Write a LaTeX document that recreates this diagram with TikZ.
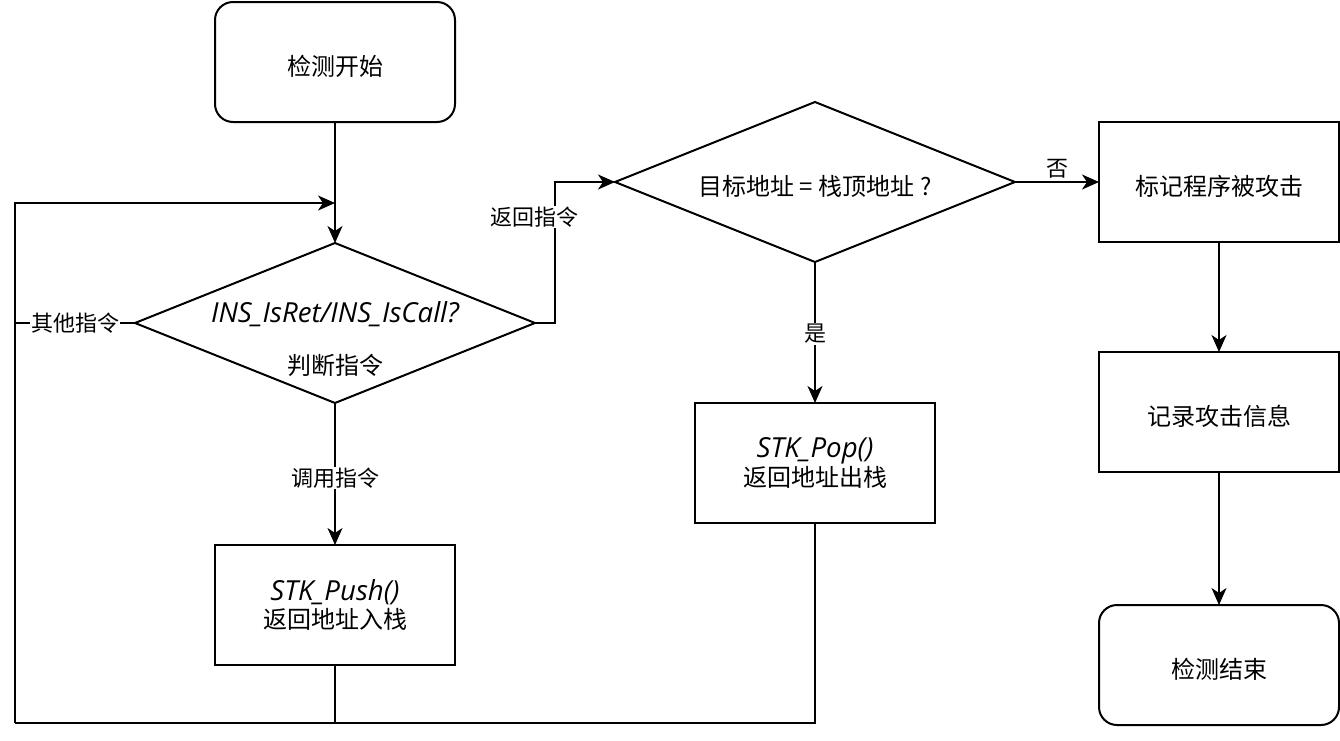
\documentclass[tikz,border=0pt]{standalone}
\usepackage{fontspec}
\setmainfont{Noto Sans CJK SC}
\newfontfamily\latinfont{Open Sans}[Scale=1.15]
\usetikzlibrary{positioning,shapes.geometric,arrows.meta}
\newcommand{\funcname}[1]{{\latinfont\itshape #1}}

\begin{document}
\begin{tikzpicture}[x=1pt,y=-1pt,
	process/.style={draw,line width=2pt,outer sep=0pt,inner sep=0pt,minimum width=240pt,minimum height=120pt,align=center,font=\fontsize{24pt}{28.8pt}\selectfont},
	oneline/.style={text height=28pt,text depth=2pt},
	terminal/.style={process,oneline,rounded corners=18pt},
	decision/.style={draw,diamond,aspect=2.5,line width=2pt,outer sep=0pt,inner sep=0pt,minimum width=400pt,minimum height=160pt,font=\fontsize{24pt}{28.8pt}\selectfont},
	flow/.style={line width=2pt,-{Stealth[length=17pt,width=15pt,inset=5pt]}},
	link/.style={line width=2pt},
	edgelabel/.style={fill=white,inner sep=1pt,font=\fontsize{22pt}{26.4pt}\selectfont}]
			\useasboundingbox (0,0) rectangle (1340,740);

			\node[terminal]										(start)		at (335,62)	{检测开始};
			\node[decision,below=121pt of start]					(judge)		{};
			\node[align=center,font=\fontsize{24pt}{28.8pt}\selectfont] (judgetext) at ([yshift=-16pt]judge.center) {\funcname{INS\_IsRet/INS\_IsCall?}\\[23pt]判断指令};
			\node[process,below=142pt of judge]					(push)		{\funcname{STK\_Push()}\\返回地址入栈};

			\node[decision,oneline,right=80pt of judge,yshift=141pt]	(check)		{目标地址 = 栈顶地址 ?};
			\node[process,below=141pt of check]					(pop)		{\funcname{STK\_Pop()}\\返回地址出栈};

			\node[process,oneline,right=84pt of check]			(mark)		{标记程序被攻击};
			\node[process,oneline,below=110pt of mark]			(record)	{记录攻击信息};
			\node[terminal,below=133pt of record]					(stop)		{检测结束};

			\coordinate (join) at (335,203);
			\coordinate (back) at (15,723);

			\draw[flow] (start) -- (judge);
			\draw[flow] (judge) -- node[edgelabel,pos=0.53] {调用指令} (push);
			\draw[flow] (judge.east) -- ++(20,0) |- node[edgelabel,pos=0.376,xshift=-21pt] {返回指令} (check.west);
			\draw[link] (judge.west) -- node[edgelabel] {其他指令} (judge.west -| back);
			\draw[link] (push.south) |- (back);
			\draw[link] (pop.south) |- (back);
			\draw[flow] (back) |- (join);
			\draw[flow] (check) -- node[edgelabel,pos=0.51] {是} (pop);
			\draw[flow] (check) -- node[above=2pt,font=\fontsize{22pt}{26.4pt}\selectfont,inner sep=1pt] {否} (mark);
			\draw[flow] (mark) -- (record);
			\draw[flow] (record) -- (stop);
		\end{tikzpicture}
\end{document}
